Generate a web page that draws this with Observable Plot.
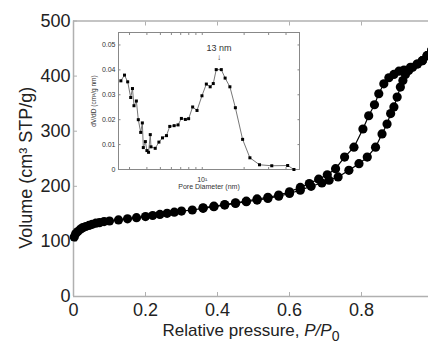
<!DOCTYPE html>
<html>
<head>
<meta charset="utf-8">
<script src="https://cdn.jsdelivr.net/npm/d3@7"></script>
<script src="https://cdn.jsdelivr.net/npm/@observablehq/plot@0.6"></script>
<style>
  html, body { margin: 0; padding: 0; background: white; overflow: hidden; }
  #chart { position: relative; width: 428px; height: 342px; overflow: hidden; }
  #inset { position: absolute; left: 84px; top: 22px; }
</style>
</head>
<body>
<div id="chart"><div id="inset"></div></div>
<script>
// ---- Main isotherm data ----
const adsP = [0.002,0.006,0.012,0.019,0.026,0.034,0.043,0.052,0.062,0.072,0.085,0.1,0.125,0.15,0.175,0.2,0.22,0.24,0.26,0.28,0.3,0.33,0.36,0.39,0.42,0.45,0.48,0.51,0.54,0.57,0.6,0.63,0.66,0.69,0.71,0.735,0.765,0.793,0.816,0.839,0.857,0.871,0.881,0.89,0.899,0.908,0.915,0.922,0.931,0.942,0.955,0.969,0.982,0.995];
const adsV = [108,114,118,122,125,127,129,131,133,134,136,137,139,141,143,145,147,149,151,153,155,157,160,163,166,169,172,175,178,182,187,193,200,206,211,217,229,241,253,271,295,313,332,344,362,380,392,403,410,416,422,428,437,447];
const desP = [0.995,0.982,0.969,0.955,0.936,0.918,0.904,0.89,0.876,0.862,0.848,0.836,0.82,0.804,0.779,0.753,0.728,0.705,0.681,0.655,0.63,0.6,0.57,0.54,0.51,0.48,0.45,0.42,0.39,0.36];
const desV = [447,437,428,422,416,411,409,403,397,386,368,348,328,304,271,253,232,221,213,205,198,190,184,180,177,173,170,167,164,161];
const mainXTicks = [0,0.2,0.4,0.6,0.8,1];
const mainYTicks = [0,100,200,300,400,500];
const yLabel = "Volume (cm³ STP/g)";
const xLabelParts = ["Relative pressure, ", "P/P", "0"];

// ---- Inset pore size distribution ----
const poreD = [2.60,2.76,2.91,3.06,3.15,3.23,3.36,3.47,3.61,3.71,3.77,3.90,4.00,4.11,4.23,4.28,4.59,4.88,5.18,5.53,5.84,6.28,6.70,7.08,7.56,7.98,8.53,9.17,9.95,10.7,11.4,12.0,12.6,13.7,14.6,15.8,17.3,19.5,22.0,25.8,31.6,41.1,45.6];
const dVdD = [0.0356,0.0379,0.0352,0.0289,0.0325,0.0256,0.0275,0.0200,0.0149,0.0187,0.0088,0.0112,0.0076,0.0069,0.0140,0.0091,0.0085,0.0110,0.0127,0.0136,0.0173,0.0176,0.0179,0.0205,0.0201,0.0204,0.0251,0.0237,0.0296,0.0343,0.0332,0.0345,0.0401,0.0401,0.0367,0.0332,0.0248,0.0121,0.0047,0.0019,0.0015,0.0016,0.0000];
const insetXTicks = [3,4,5,6,7,8,9,10,20,30,40,50];
const insetYTicks = [0,0.01,0.02,0.03,0.04,0.05];
const insetXLabel = "Pore Diameter (nm)";
const insetYLabel = "dV/dD (cm³/g nm)";
const annText = ["13 nm"];
const annD = [13.2];
const annV = [0.0401];

const font = "'Liberation Sans', Arial, sans-serif";
const axisGray = "#b0b0b0";
const ads = adsP.map((p, i) => ({p, v: adsV[i]}));
const des = desP.map((p, i) => ({p, v: desV[i]}));
const noText = () => "";

const main = Plot.plot({
  width: 428, height: 342,
  marginLeft: 73, marginRight: 0, marginTop: 20.5, marginBottom: 46,
  style: {fontFamily: font, fontSize: "18px", background: "white", color: "#222"},
  x: {domain: [0, 1], range: [73, 433]},
  y: {domain: [0, 500]},
  marks: [
    Plot.ruleY([500], {stroke: axisGray, strokeWidth: 1.5}),
    Plot.ruleY([0], {stroke: axisGray, strokeWidth: 1.5}),
    Plot.ruleX([0], {stroke: axisGray, strokeWidth: 1.5}),
    Plot.axisX({ticks: mainXTicks, tickSize: 0, tickPadding: 7, label: null,
      tickFormat: d => d === 0 ? "0" : d === 1 ? "" : d.toFixed(1)}),
    Plot.axisX({anchor: "bottom", ticks: mainXTicks, tickSize: -4, stroke: axisGray, tickFormat: noText, label: null}),
    Plot.axisX({anchor: "top", ticks: mainXTicks, tickSize: -4, stroke: axisGray, tickFormat: noText, label: null}),
    Plot.axisY({ticks: mainYTicks, tickSize: 0, tickPadding: 3, label: null, tickFormat: d => String(d)}),
    Plot.axisY({anchor: "left", ticks: mainYTicks, tickSize: -4, stroke: axisGray, tickFormat: noText, label: null}),
    Plot.text([yLabel], {text: d => d, frameAnchor: "left", textAnchor: "middle", lineAnchor: "middle",
      rotate: -90, dx: -47, dy: 9, fontSize: 18, fill: "#222"}),
    Plot.text([xLabelParts.join("")], {text: d => d, frameAnchor: "bottom", textAnchor: "middle",
      dy: 39, lineAnchor: "bottom", fontSize: 17, fill: "#222"}),
    Plot.line(ads, {x: "p", y: "v", stroke: "black", strokeWidth: 1.2}),
    Plot.line(des, {x: "p", y: "v", stroke: "black", strokeWidth: 1.2}),
    Plot.dot(ads, {x: "p", y: "v", r: 4.6, fill: "black"}),
    Plot.dot(des, {x: "p", y: "v", r: 4.6, fill: "black"})
  ]
});
document.getElementById("chart").insertBefore(main, document.getElementById("inset"));

d3.select(main).selectAll("text")
  .filter(function() { return this.textContent === xLabelParts.join(""); })
  .each(function() {
    const t = d3.select(this);
    t.text(null);
    t.append("tspan").text(xLabelParts[0]);
    t.append("tspan").attr("font-style", "italic").text(xLabelParts[1]);
    t.append("tspan").attr("dy", 5).attr("font-size", 14).text(xLabelParts[2]);
  });

const pores = poreD.map((d, i) => ({d, v: dVdD[i]}));
const ann = annText.map((t, i) => ({t, d: annD[i], v: annV[i]}));

const inset = Plot.plot({
  width: 221, height: 170,
  marginLeft: 34, marginTop: 10, marginRight: 6, marginBottom: 23,
  style: {fontFamily: font, fontSize: "7px", background: "transparent", color: "#333"},
  x: {type: "log", domain: [2.5, 50]},
  y: {domain: [0, 0.055]},
  marks: [
    Plot.frame({fill: "white", stroke: "#888"}),
    Plot.axisY({ticks: insetYTicks, tickSize: 0, tickPadding: 3, label: null,
      tickFormat: d => d === 0 ? "0" : d.toFixed(2)}),
    Plot.axisY({anchor: "left", ticks: insetYTicks, tickSize: -2.5, stroke: "#888", tickFormat: noText, label: null}),
    Plot.axisY({anchor: "right", ticks: insetYTicks, tickSize: -2.5, stroke: "#888", tickFormat: noText, label: null}),
    Plot.axisX({ticks: insetXTicks, tickSize: 0, tickPadding: 8, label: null,
      tickFormat: d => d === 10 ? "10¹" : ""}),
    Plot.axisX({anchor: "bottom", ticks: insetXTicks, tickSize: -2, stroke: "#888", tickFormat: noText, label: null}),
    Plot.axisX({anchor: "top", ticks: insetXTicks, tickSize: -2, stroke: "#888", tickFormat: noText, label: null}),
    Plot.text([insetXLabel], {text: d => d, frameAnchor: "bottom", textAnchor: "middle", dy: 19, lineAnchor: "bottom", fontSize: 7, fill: "#333"}),
    Plot.text([insetYLabel], {text: d => d, frameAnchor: "left", textAnchor: "middle", lineAnchor: "middle", rotate: -90, dx: -25, fontSize: 6.5, fill: "#333"}),
    Plot.line(pores, {x: "d", y: "v", stroke: "#777", strokeWidth: 1}),
    Plot.dot(pores, {x: "d", y: "v", symbol: "square", r: 1.7, fill: "black"}),
    Plot.text(ann, {x: "d", y: "v", text: "t", dy: -18.7, lineAnchor: "bottom", fontSize: 9, fill: "#333"}),
    Plot.text(ann, {x: "d", y: "v", text: () => "↓", dy: -12, fontSize: 8, fill: "#333"})
  ]
});
document.getElementById("inset").appendChild(inset);
</script>
</body>
</html>
